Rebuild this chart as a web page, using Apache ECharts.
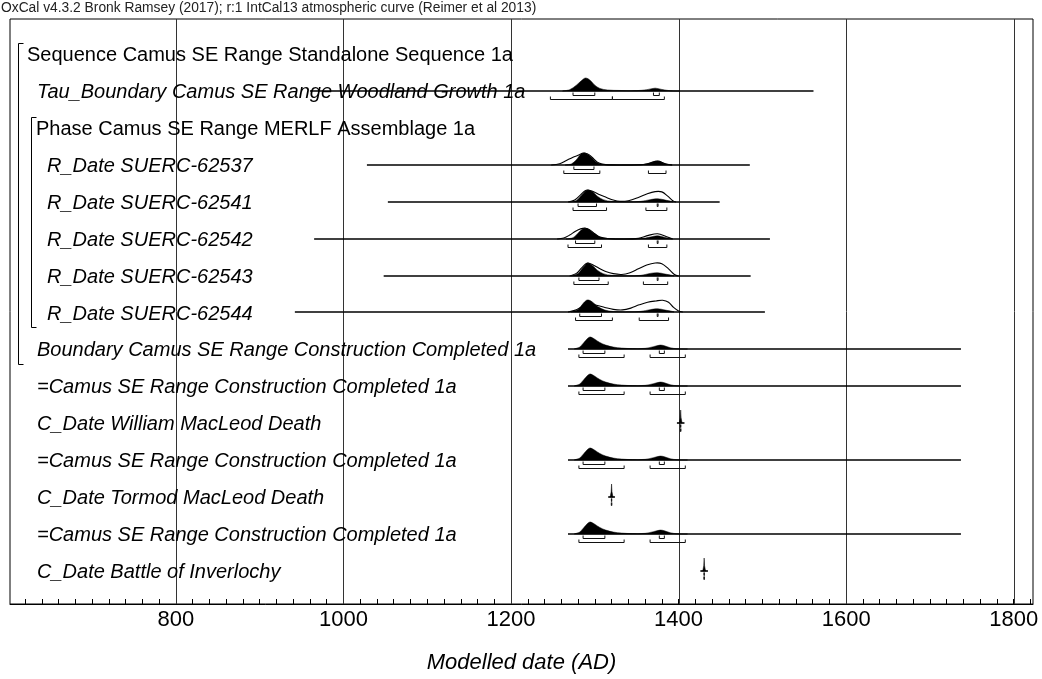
<!DOCTYPE html>
<html>
<head>
<meta charset="utf-8">
<script src="https://cdn.jsdelivr.net/npm/echarts@6/dist/echarts.min.js"></script>
<style>
html,body{margin:0;padding:0;background:#fff;}
#chart{width:1042px;height:679px;}
</style>
</head>
<body>
<div id="chart"></div>
<script>
// ---------------- DATA ----------------
const headerText = 'OxCal v4.3.2 Bronk Ramsey (2017); r:1 IntCal13 atmospheric curve (Reimer et al 2013)';
const axisTitle = 'Modelled date (AD)';
const tickLabels = [800, 1000, 1200, 1400, 1600, 1800];
const gridYears = [800, 1000, 1200, 1400, 1600, 1800];

const rowLabels = [
  'Sequence Camus SE Range Standalone Sequence 1a',
  'Tau_Boundary Camus SE Range Woodland Growth 1a',
  'Phase Camus SE Range MERLF Assemblage 1a',
  'R_Date SUERC-62537',
  'R_Date SUERC-62541',
  'R_Date SUERC-62542',
  'R_Date SUERC-62543',
  'R_Date SUERC-62544',
  'Boundary Camus SE Range Construction Completed 1a',
  '=Camus SE Range Construction Completed 1a',
  'C_Date William MacLeod Death',
  '=Camus SE Range Construction Completed 1a',
  'C_Date Tormod MacLeod Death',
  '=Camus SE Range Construction Completed 1a',
  'C_Date Battle of Inverlochy'
];
const rowKinds = ['sequence','item','phase','subitem','subitem','subitem','subitem','subitem','item','item','item','item','item','item','item'];
// structural groups: [firstRow, lastRow, nesting level]
const groupSpans = [[0, 8, 0], [2, 7, 1]];

// Tau_Boundary Woodland Growth
const tauRange = [960, 1561];
const tauPosterior = [[1262,0],[1270,0.1],[1278,0.45],[1285,0.85],[1289,1.0],[1294,0.85],[1300,0.45],[1306,0.2],[1315,0.08],[1330,0.04],[1350,0.03],[1362,0.1],[1372,0.22],[1380,0.12],[1390,0.02],[1400,0]];
const tauHpd68 = [[1274,1300],[1370,1377]];
const tauHpd95 = [[1247,1321],[1321,1383]];

// SUERC-62537
const r62537Range = [1028, 1485];
const r62537Likelihood = [[1248,0],[1258,0.1],[1266,0.35],[1274,0.6],[1280,0.75],[1285,0.9],[1288,0.92],[1293,0.8],[1299,0.45],[1305,0.15],[1313,0.03],[1330,0],[1355,0.02],[1364,0.12],[1375,0.3],[1384,0.1],[1392,0]];
const r62537Posterior = [[1265,0],[1272,0.08],[1278,0.4],[1283,0.8],[1287,0.92],[1292,0.8],[1298,0.45],[1304,0.15],[1312,0.03],[1330,0],[1355,0.02],[1364,0.12],[1375,0.3],[1384,0.1],[1392,0]];
const r62537Hpd68 = [[1275,1299]];
const r62537Hpd95 = [[1263,1306],[1364,1385]];

// SUERC-62541
const r62541Range = [1053, 1449];
const r62541Likelihood = [[1268,0],[1276,0.15],[1283,0.55],[1288,0.85],[1292,0.92],[1298,0.8],[1306,0.55],[1314,0.35],[1322,0.15],[1330,0.05],[1340,0.1],[1352,0.35],[1362,0.62],[1372,0.8],[1380,0.78],[1387,0.45],[1393,0.1],[1397,0]];
const r62541Posterior = [[1270,0],[1278,0.12],[1284,0.5],[1289,0.85],[1292,0.92],[1297,0.8],[1303,0.45],[1310,0.18],[1320,0.05],[1340,0.01],[1355,0.05],[1366,0.18],[1375,0.25],[1384,0.15],[1393,0]];
const r62541Hpd68 = [[1280,1302],[1374.5,1375.5]];
const r62541Hpd95 = [[1274,1314],[1361,1386]];

// SUERC-62542
const r62542Range = [965, 1509];
const r62542Likelihood = [[1255,0],[1263,0.08],[1270,0.3],[1277,0.6],[1283,0.78],[1289,0.83],[1294,0.7],[1300,0.4],[1306,0.15],[1315,0.04],[1335,0],[1352,0.05],[1364,0.28],[1375,0.4],[1385,0.2],[1393,0]];
const r62542Posterior = [[1266,0],[1274,0.1],[1280,0.45],[1285,0.75],[1289,0.83],[1294,0.7],[1300,0.4],[1306,0.15],[1315,0.04],[1335,0],[1355,0.03],[1366,0.15],[1375,0.25],[1384,0.12],[1392,0]];
const r62542Hpd68 = [[1277,1300],[1374.5,1375.5]];
const r62542Hpd95 = [[1268,1308],[1364,1386]];

// SUERC-62543
const r62543Range = [1048, 1486];
const r62543Likelihood = [[1270,0],[1278,0.2],[1284,0.6],[1289,0.92],[1292,1.0],[1298,0.85],[1305,0.6],[1313,0.35],[1322,0.18],[1332,0.12],[1342,0.25],[1352,0.55],[1362,0.85],[1372,1.0],[1380,0.95],[1388,0.55],[1395,0.12],[1400,0]];
const r62543Posterior = [[1272,0],[1280,0.2],[1286,0.65],[1290,0.95],[1292,1.0],[1297,0.8],[1303,0.45],[1310,0.18],[1320,0.05],[1340,0.01],[1355,0.05],[1366,0.2],[1375,0.25],[1384,0.15],[1394,0]];
const r62543Hpd68 = [[1281,1305],[1374.5,1375.5]];
const r62543Hpd95 = [[1275,1316],[1358,1387]];

// SUERC-62544
const r62544Range = [942, 1503];
const r62544Likelihood = [[1268,0],[1278,0.18],[1286,0.45],[1294,0.58],[1302,0.52],[1312,0.35],[1322,0.2],[1333,0.16],[1343,0.3],[1353,0.55],[1363,0.75],[1373,0.85],[1381,0.9],[1388,0.75],[1394,0.35],[1400,0.08],[1405,0]];
const r62544Posterior = [[1272,0],[1280,0.2],[1286,0.65],[1290,0.9],[1293,0.92],[1298,0.72],[1304,0.4],[1312,0.15],[1322,0.04],[1340,0.01],[1355,0.05],[1366,0.18],[1375,0.25],[1384,0.15],[1394,0]];
const r62544Hpd68 = [[1282,1308],[1374.5,1375.5]];
const r62544Hpd95 = [[1277,1321],[1353,1388]];

// Boundary / =Camus SE Range Construction Completed 1a
const constructionRange = [1268, 1737];
const constructionPosterior = [[1276,0],[1282,0.15],[1287,0.5],[1292,0.85],[1295,0.92],[1300,0.75],[1306,0.5],[1313,0.3],[1322,0.15],[1332,0.07],[1345,0.03],[1360,0.05],[1370,0.18],[1378,0.3],[1383,0.25],[1390,0.1],[1398,0.02],[1410,0]];
const constructionHpd68 = [[1286,1312],[1377,1383]];
const constructionHpd95 = [[1281,1335],[1366,1408]];

// C_Dates
const williamRange = [1398, 1407];
const williamLikelihood = [[1400.8,0],[1402,0.4],[1402.5,1],[1403,0.4],[1404.2,0]];
const williamHpd68 = [[1402.3,1402.7]];
const williamHpd95 = [[1402.2,1402.8]];

const tormodRange = [1316, 1324];
const tormodLikelihood = [[1318.3,0],[1319.5,0.4],[1320,1],[1320.5,0.4],[1321.7,0]];
const tormodHpd68 = [[1319.8,1320.2]];
const tormodHpd95 = [[1319.7,1320.3]];

const inverlochyRange = [1426, 1435];
const inverlochyLikelihood = [[1428.8,0],[1430,0.4],[1430.5,1],[1431,0.4],[1432.2,0]];
const inverlochyHpd68 = [[1430.3,1430.7]];
const inverlochyHpd95 = [[1430.2,1430.8]];

// ---------------- BUILD ----------------
const dists = [
  {row:1, range:tauRange, post:tauPosterior, hpd68:tauHpd68, hpd95:tauHpd95},
  {row:3, range:r62537Range, like:r62537Likelihood, post:r62537Posterior, hpd68:r62537Hpd68, hpd95:r62537Hpd95},
  {row:4, range:r62541Range, like:r62541Likelihood, post:r62541Posterior, hpd68:r62541Hpd68, hpd95:r62541Hpd95},
  {row:5, range:r62542Range, like:r62542Likelihood, post:r62542Posterior, hpd68:r62542Hpd68, hpd95:r62542Hpd95},
  {row:6, range:r62543Range, like:r62543Likelihood, post:r62543Posterior, hpd68:r62543Hpd68, hpd95:r62543Hpd95},
  {row:7, range:r62544Range, like:r62544Likelihood, post:r62544Posterior, hpd68:r62544Hpd68, hpd95:r62544Hpd95},
  {row:8, range:constructionRange, post:constructionPosterior, hpd68:constructionHpd68, hpd95:constructionHpd95},
  {row:9, range:constructionRange, post:constructionPosterior, hpd68:constructionHpd68, hpd95:constructionHpd95},
  {row:10, range:williamRange, post:williamLikelihood, hpd68:williamHpd68, hpd95:williamHpd95, spike:true},
  {row:11, range:constructionRange, post:constructionPosterior, hpd68:constructionHpd68, hpd95:constructionHpd95},
  {row:12, range:tormodRange, post:tormodLikelihood, hpd68:tormodHpd68, hpd95:tormodHpd95, spike:true},
  {row:13, range:constructionRange, post:constructionPosterior, hpd68:constructionHpd68, hpd95:constructionHpd95},
  {row:14, range:inverlochyRange, post:inverlochyLikelihood, hpd68:inverlochyHpd68, hpd95:inverlochyHpd95, spike:true}
];

const minorTicks = [];
for (let v = 620; v <= 1820; v += 20) minorTicks.push(v);

const FONT = '"Liberation Sans", Arial, Helvetica, sans-serif';
const H = 13;          // px per unit of relative probability
const X_MIN = 602, X_MAX = 1823;
const Y_MIN = -0.946, Y_MAX = 14.892;

function renderGrid(params, api) {
  const cs = params.coordSys;
  const x = Math.round(api.coord([api.value(0), 0])[0]) + 0.5;
  return {type:'line', shape:{x1:x, y1:cs.y, x2:x, y2:cs.y + cs.height}, style:{stroke:'#333', lineWidth:1}};
}

function renderDist(params, api) {
  const d = dists[params.dataIndex];
  const base = Math.round(api.coord([X_MIN, d.row])[1]);
  const X = yr => api.coord([yr, d.row])[0];
  const children = [];
  children.push({type:'line', shape:{x1:X(d.range[0]), y1:base, x2:X(d.range[1]), y2:base},
    style:{stroke:'#000', lineWidth:1.6}});
  if (d.post) {
    children.push({type:'polygon',
      shape:{points:d.post.map(p => [X(p[0]), base - p[1]*H]), smooth: d.spike ? 0 : 0.35,
             smoothConstraint:[[-1e6,-1e6],[1e6, base]]},
      style:{fill:'#000', stroke:'#000', lineWidth:0.5}});
  }
  if (d.like) {
    children.push({type:'polyline',
      shape:{points:d.like.map(p => [X(p[0]), base - p[1]*H]), smooth:0.35,
             smoothConstraint:[[-1e6,-1e6],[1e6, base]]},
      style:{fill:null, stroke:'#000', lineWidth:1.1}});
  }
  const addBr = (list, off) => list.forEach(r => {
    const y = base + off + 0.5;
    children.push({type:'polyline',
      shape:{points:[[X(r[0]), y-3],[X(r[0]), y],[X(r[1]), y],[X(r[1]), y-3]]},
      style:{fill:null, stroke:'#111', lineWidth:1}});
  });
  addBr(d.hpd68, 4);
  addBr(d.hpd95, 8);
  return {type:'group', children};
}

const indents = {sequence:17, phase:26, item:27, subitem:37};
function renderLabel(params, api) {
  const i = params.dataIndex;
  const cs = params.coordSys;
  const kind = rowKinds[i];
  const y = api.coord([X_MIN, i])[1];
  return {type:'text', style:{
    x: cs.x + indents[kind], y: y + 1.5,
    text: rowLabels[i],
    fontSize: 20, fontFamily: FONT,
    fontStyle: (kind === 'sequence' || kind === 'phase') ? 'normal' : 'italic',
    fill:'#000', align:'left', verticalAlign:'middle'}};
}

function renderGroup(params, api) {
  const g = groupSpans[params.dataIndex];
  const cs = params.coordSys;
  const x = cs.x + 8.5 + g[2]*13;
  const top = Math.round(api.coord([X_MIN, g[0]])[1]) - 10.5;
  const bot = Math.round(api.coord([X_MIN, g[1]])[1]) + 15.5;
  return {type:'polyline', shape:{points:[[x+5, top],[x, top],[x, bot],[x+5, bot]]},
    style:{fill:null, stroke:'#000', lineWidth:1}};
}

const chart = echarts.init(document.getElementById('chart'), null, {renderer:'canvas'});
chart.setOption({
  animation:false,
  backgroundColor:'#fff',
  title:{text:headerText, left:0, top:0, padding:[1,0,0,1],
    textStyle:{fontSize:13.8, fontWeight:'normal', color:'#222', fontFamily:FONT}},
  grid:{left:10, right:9, top:19, bottom:74, show:true, borderColor:'#000', borderWidth:1, backgroundColor:'transparent'},
  xAxis:{type:'value', min:X_MIN, max:X_MAX,
    axisLine:{show:true, onZero:false, lineStyle:{color:'#000', width:1}},
    axisTick:{show:true, inside:true, length:5, customValues:minorTicks, lineStyle:{color:'#000', width:1}},
    axisLabel:{show:true, customValues:tickLabels, fontSize:22, color:'#000', margin:5, fontFamily:FONT,
      formatter: v => String(v)},
    splitLine:{show:false},
    name:axisTitle, nameLocation:'middle', nameGap:48,
    nameTextStyle:{fontSize:22, fontStyle:'italic', color:'#000', fontFamily:FONT}},
  yAxis:{type:'value', inverse:true, min:Y_MIN, max:Y_MAX, show:false, splitLine:{show:false}},
  series:[
    {type:'custom', z:1, silent:true, renderItem:renderGrid, data:gridYears.map(v => [v])},
    {type:'custom', z:2, silent:true, renderItem:renderLabel, data:rowLabels.map((t,i) => [X_MIN, i])},
    {type:'custom', z:2, silent:true, renderItem:renderGroup, data:groupSpans.map(g => [X_MIN, g[0]])},
    {type:'custom', z:3, silent:true, renderItem:renderDist, data:dists.map(d => [d.range[0], d.row])}
  ]
});
</script>
</body>
</html>
